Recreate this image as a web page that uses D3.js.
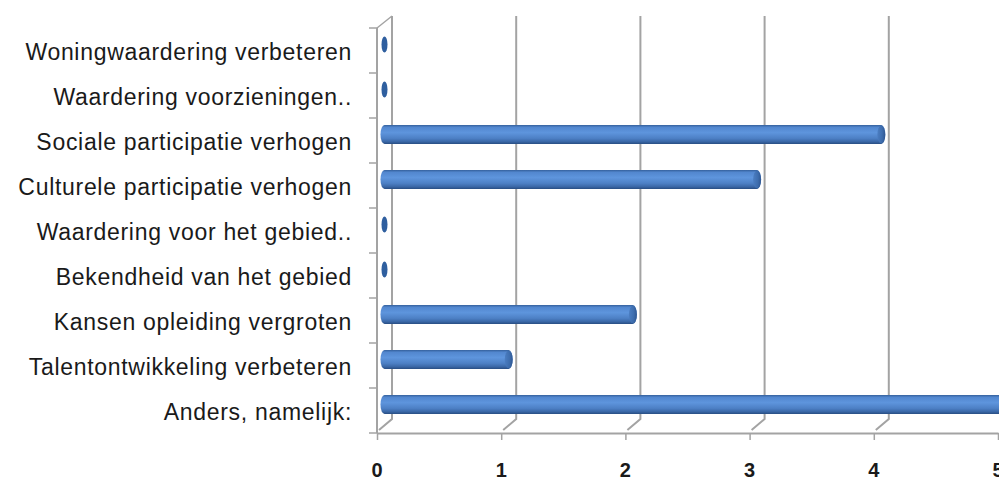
<!DOCTYPE html>
<html><head><meta charset="utf-8">
<script src="https://cdn.jsdelivr.net/npm/d3@7"></script>
<style>
html,body{margin:0;padding:0;background:#fff;}
svg{display:block;}
.xlab{font-family:'Liberation Sans', Arial, sans-serif; font-size:20px; font-weight:bold; fill:#1a1a1a;}
.ylab{font-family:'Liberation Sans', Arial, sans-serif; font-size:23px; fill:#1a1a1a;}
</style></head>
<body>
<svg id="chart" width="999" height="480"></svg>
<script>
const categories = [
  "Woningwaardering verbeteren",
  "Waardering voorzieningen..",
  "Sociale participatie verhogen",
  "Culturele participatie verhogen",
  "Waardering voor het gebied..",
  "Bekendheid van het gebied",
  "Kansen opleiding vergroten",
  "Talentontwikkeling verbeteren",
  "Anders, namelijk:"
];
const values = [0, 0, 4, 3, 0, 0, 2, 1, 5];
const tickValues = [0, 1, 2, 3, 4, 5];

const svg = d3.select("#chart");
const depthX = 15, depthY = -12;
const x0 = 377, yTop = 28, yBottom = 433;

const x = d3.scaleLinear().domain([0, 5]).range([x0, x0 + 621]);
const y = d3.scaleBand().domain(categories).range([yTop, yBottom]).paddingInner(0).paddingOuter(0);

const defs = svg.append("defs");
const grad = defs.append("linearGradient").attr("id", "cyl").attr("x1", 0).attr("y1", 0).attr("x2", 0).attr("y2", 1);
[["0%", "#34609c"], ["12%", "#5287cf"], ["40%", "#5e95dd"], ["70%", "#4d80c5"], ["88%", "#3a67a6"], ["100%", "#284d82"]]
  .forEach(([o, c]) => grad.append("stop").attr("offset", o).attr("stop-color", c));
const capGrad = defs.append("linearGradient").attr("id", "cap").attr("x1", 0).attr("y1", 0).attr("x2", 1).attr("y2", 0);
[["0%", "#4a7cc0"], ["60%", "#3b6aaa"], ["100%", "#2b5089"]]
  .forEach(([o, c]) => capGrad.append("stop").attr("offset", o).attr("stop-color", c));

const gridColor = "#a3a3a3";

const g = svg.append("g");
tickValues.forEach(v => {
  const fx = x(v);
  g.append("path")
    .attr("d", `M${fx + depthX},${yTop + depthY} L${fx + depthX},${yBottom + depthY - 2} L${fx + 2},${yBottom - 3}`)
    .attr("fill", "none").attr("stroke", gridColor).attr("stroke-width", 2);
});
g.append("line").attr("x1", x0).attr("y1", yTop).attr("x2", x0 + depthX).attr("y2", yTop + depthY)
  .attr("stroke", gridColor).attr("stroke-width", 1.5);
g.append("line").attr("x1", x0).attr("y1", yTop).attr("x2", x0).attr("y2", yBottom)
  .attr("stroke", gridColor).attr("stroke-width", 2);
const bounds = categories.map(c => y(c)).concat([yBottom]);
g.selectAll(".yt").data(bounds).join("line")
  .attr("x1", x0 - 8).attr("x2", x0).attr("y1", d => d).attr("y2", d => d)
  .attr("stroke", gridColor).attr("stroke-width", 1.5);

const xAxis = d3.axisBottom(x).tickValues(tickValues).tickFormat("")
  .tickSizeInner(7).tickSizeOuter(0);
const ax = svg.append("g").attr("transform", `translate(0,${yBottom})`).call(xAxis);
ax.select(".domain").attr("stroke", gridColor).attr("stroke-width", 2);
ax.selectAll(".tick line").attr("stroke", gridColor).attr("stroke-width", 1.5);
ax.selectAll(".tick text").remove();

svg.append("g").selectAll("text").data(tickValues).join("text")
  .attr("class", "xlab")
  .attr("x", d => x(d))
  .attr("y", 477)
  .attr("text-anchor", "middle")
  .text(d => d3.format("d")(d));

svg.append("g").selectAll("text").data(categories).join("text")
  .attr("class", "ylab")
  .attr("x", 352)
  .attr("y", d => y(d) + y.bandwidth() / 2 + 1)
  .attr("text-anchor", "end")
  .attr("dominant-baseline", "central")
  .attr("letter-spacing", 0.7)
  .text(d => d);

const barH = 19;
const bx = v => x(v) + depthX / 2;
const by = c => y(c) + y.bandwidth() / 2 + depthY / 2;
const data = categories.map((c, i) => ({ c, v: values[i] }));
const bars = svg.append("g");
data.forEach(d => {
  const cy = by(d.c);
  const xs = bx(0), xe = bx(d.v);
  if (d.v === 0) {
    bars.append("ellipse").attr("cx", xs).attr("cy", cy).attr("rx", 3).attr("ry", 8)
      .attr("fill", "#2f5f9f");
  } else {
    const rx = 4;
    bars.append("path")
      .attr("d", `M${xs},${cy - barH / 2} L${xe},${cy - barH / 2} A${rx},${barH / 2} 0 0 1 ${xe},${cy + barH / 2} L${xs},${cy + barH / 2} A${rx},${barH / 2} 0 0 1 ${xs},${cy - barH / 2} Z`)
      .attr("fill", "url(#cyl)");
    bars.append("ellipse").attr("cx", xe).attr("cy", cy).attr("rx", rx).attr("ry", barH / 2 - 0.5)
      .attr("fill", "url(#cap)").attr("opacity", 0.9);
  }
});
</script>
</body></html>
